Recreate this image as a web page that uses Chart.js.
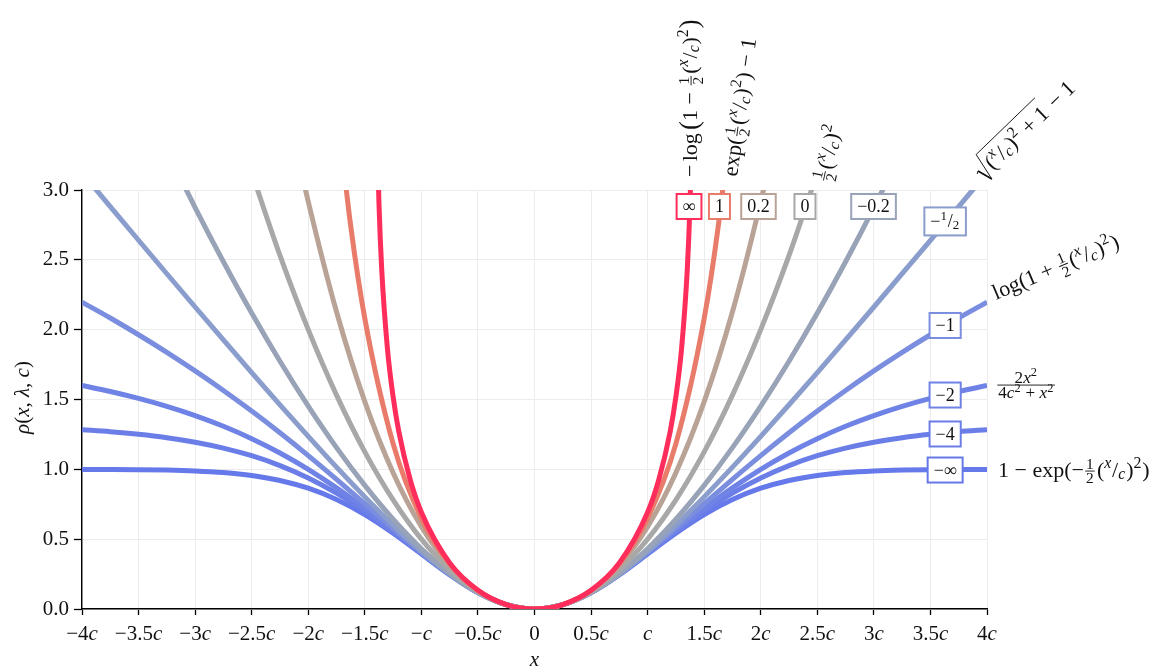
<!DOCTYPE html>
<html><head><meta charset="utf-8">
<script src="https://cdn.jsdelivr.net/npm/chart.js@4.4.1/dist/chart.umd.min.js"></script>
<style>html,body{margin:0;padding:0;background:#fff;}canvas{display:block;}</style>
</head><body>
<div style="width:1176px;height:669px;position:relative;"><canvas id="c" width="1176" height="669"></canvas></div>
<script>
// ---------- data ----------
const lambdaLabels = ['∞','1','0.2','0','−0.2','−1/2','−1','−2','−4','−∞'];
const xTickLabels = ['−4c','−3.5c','−3c','−2.5c','−2c','−1.5c','−c','−0.5c','0','0.5c','c','1.5c','2c','2.5c','3c','3.5c','4c'];
const yTickLabels = ['0.0','0.5','1.0','1.5','2.0','2.5','3.0'];

const xFull = [-4,-3.75,-3.5,-3.25,-3,-2.75,-2.5,-2.25,-2,-1.75,-1.5,-1.25,-1,-0.75,-0.5,-0.25,0,0.25,0.5,0.75,1,1.25,1.5,1.75,2,2.25,2.5,2.75,3,3.25,3.5,3.75,4];
const yNegInf = [0.9997,0.9991,0.9978,0.9949,0.9889,0.9772,0.9561,0.9204,0.8647,0.7837,0.6753,0.5422,0.3935,0.2452,0.1175,0.0308,0,0.0308,0.1175,0.2452,0.3935,0.5422,0.6753,0.7837,0.8647,0.9204,0.9561,0.9772,0.9889,0.9949,0.9978,0.9991,0.9997];
const yNeg4 = [1.2840,1.2698,1.2511,1.2266,1.1944,1.1522,1.0974,1.0270,0.9383,0.8291,0.6994,0.5526,0.3969,0.2459,0.1176,0.0308,0,0.0308,0.1176,0.2459,0.3969,0.5526,0.6994,0.8291,0.9383,1.0270,1.0974,1.1522,1.1944,1.2266,1.2511,1.2698,1.2840];
const yNeg2 = [1.6,1.5571,1.5077,1.4506,1.3846,1.3081,1.2195,1.1172,1.0,0.8673,0.72,0.5618,0.4,0.2466,0.1176,0.0308,0,0.0308,0.1176,0.2466,0.4,0.5618,0.72,0.8673,1.0,1.1172,1.2195,1.3081,1.3846,1.4506,1.5077,1.5571,1.6];
const yNeg1 = [2.1972,2.0834,1.9636,1.8376,1.7047,1.5647,1.4171,1.2617,1.0986,0.9287,0.7538,0.5773,0.4055,0.2478,0.1178,0.0308,0,0.0308,0.1178,0.2478,0.4055,0.5773,0.7538,0.9287,1.0986,1.2617,1.4171,1.5647,1.7047,1.8376,1.9636,2.0834,2.1972];
const yNegHalf = [3.1231,2.8810,2.6401,2.4004,2.1623,1.9262,1.6926,1.4622,1.2361,1.0156,0.8028,0.6008,0.4142,0.25,0.1180,0.0308,0,0.0308,0.1180,0.25,0.4142,0.6008,0.8028,1.0156,1.2361,1.4622,1.6926,1.9262,2.1623,2.4004,2.6401,2.8810,3.1231];
const xNeg02 = [-3.25,-3,-2.75,-2.5,-2.25,-2,-1.75,-1.5,-1.25,-1,-0.75,-0.5,-0.25,0,0.25,0.5,0.75,1,1.25,1.5,1.75,2,2.25,2.5,2.75,3,3.25];
const yNeg02 = [3.2838,2.8746,2.4864,2.1189,1.7741,1.4526,1.1553,0.8848,0.6424,0.4311,0.2547,0.1187,0.0308,0,0.0308,0.1187,0.2547,0.4311,0.6424,0.8848,1.1553,1.4526,1.7741,2.1189,2.4864,2.8746,3.2838];
const xZero = [-2.5,-2.25,-2,-1.75,-1.5,-1.25,-1,-0.75,-0.5,-0.25,0,0.25,0.5,0.75,1,1.25,1.5,1.75,2,2.25,2.5];
const yZero = [3.125,2.5313,2.0,1.5313,1.125,0.7813,0.5,0.2813,0.125,0.0313,0,0.0313,0.125,0.2813,0.5,0.7813,1.125,1.5313,2.0,2.5313,3.125];
const xPos02 = [-2.25,-2.125,-2,-1.75,-1.5,-1.25,-1,-0.75,-0.5,-0.25,0,0.25,0.5,0.75,1,1.25,1.5,1.75,2,2.125,2.25];
const yPos02 = [3.8633,3.3706,2.9177,2.1281,1.4846,0.9758,0.5896,0.3131,0.1320,0.0317,0,0.0317,0.1320,0.3131,0.5896,0.9758,1.4846,2.1281,2.9177,3.3706,3.8633];
const xOne = [-1.75,-1.625,-1.5,-1.25,-1,-0.75,-0.5,-0.25,0,0.25,0.5,0.75,1,1.25,1.5,1.625,1.75];
const yOne = [3.6240,2.7446,2.0802,1.1842,0.6487,0.3248,0.1331,0.0317,0,0.0317,0.1331,0.3248,0.6487,1.1842,2.0802,2.7446,3.6240];
const xInf = [-1.39,-1.375,-1.35,-1.3,-1.25,-1.2,-1.1,-1,-0.75,-0.5,-0.25,0,0.25,0.5,0.75,1,1.1,1.2,1.25,1.3,1.35,1.375,1.39];
const yInf = [3.383,2.906,2.422,1.864,1.520,1.273,0.929,0.6931,0.3302,0.1335,0.0318,0,0.0318,0.1335,0.3302,0.6931,0.929,1.273,1.520,1.864,2.422,2.906,3.383];

// label-box anchor positions (data coordinates)
const boxX = [1.366,1.635,1.98,2.391,2.997,3.63,3.63,3.63,3.63,3.63];
const boxY = [2.882,2.882,2.882,2.882,2.882,2.775,2.03,1.532,1.253,0.995];

// ---------- styles ----------
const curveColors = ['#ff2d5b','#e97b6a','#b9a296','#a8a8a8','#98a3b7','#8a9dcc','#7a8ddf','#6f82e6','#6b7ee8','#6679ea'];
const SERIF = '"Liberation Serif","DejaVu Serif",serif';
const INK = '#111';

const seriesX = [xInf,xOne,xPos02,xZero,xNeg02,xFull,xFull,xFull,xFull,xFull];
const seriesY = [yInf,yOne,yPos02,yZero,yNeg02,yNegHalf,yNeg1,yNeg2,yNeg4,yNegInf];

const datasets = lambdaLabels.map((lab,i)=>({
  label: lab,
  data: seriesX[i].map((x,j)=>({x:x, y:seriesY[i][j]})),
  borderColor: curveColors[i],
  borderWidth: 5,
  pointRadius: 0,
  fill: false,
  cubicInterpolationMode: 'monotone',
  borderCapStyle: 'butt'
}));

// ---------- tiny math-text renderer ----------
function fnt(size, it){ return (it?'italic ':'') + size.toFixed(2) + 'px ' + SERIF; }
function layoutMath(ctx, items, S, draw, x0, y0){
  let x = x0;
  for (const it of items){
    const k = it[0];
    if (k==='r' || k==='i'){
      const sc = it[2]||1;
      ctx.font = fnt(S*sc, k==='i');
      if (draw) ctx.fillText(it[1], x, y0 + (sc>1 ? S*(sc-1)*0.3 : 0));
      x += ctx.measureText(it[1]).width;
    } else if (k==='sup' || k==='sub'){
      const s = S*0.72;
      ctx.font = fnt(s, !!it[2]);
      const dy = k==='sup' ? -S*0.40 : S*0.10;
      if (draw) ctx.fillText(it[1], x, y0+dy);
      x += ctx.measureText(it[1]).width + S*0.04;
    } else if (k==='frac'){
      const s = S*(it[3]||0.7);
      const wn = layoutMath(ctx, it[1], s, false, 0, 0);
      const wd = layoutMath(ctx, it[2], s, false, 0, 0);
      const w = Math.max(wn, wd) + S*0.2;
      const bar = y0 - S*0.27;
      if (draw){
        layoutMath(ctx, it[1], s, true, x + (w-wn)/2, bar - S*0.1);
        layoutMath(ctx, it[2], s, true, x + (w-wd)/2, bar + S*0.08 + s*0.68);
        ctx.fillRect(x + S*0.06, bar - 0.45, w - S*0.12, 0.9);
      }
      x += w + S*0.04;
    } else if (k==='sp'){
      x += it[1]*S;
    } else if (k==='sqrt'){
      const inner0 = x + S*0.62;
      const end = layoutMath(ctx, it[1], S, false, inner0, y0);
      if (draw){
        const sv = ctx.strokeStyle, lw = ctx.lineWidth;
        ctx.strokeStyle = ctx.fillStyle; ctx.lineWidth = 0.9;
        ctx.beginPath();
        ctx.moveTo(x, y0 - S*0.38);
        ctx.lineTo(x + S*0.12, y0 - S*0.45);
        ctx.lineTo(x + S*0.32, y0 + S*0.25);
        ctx.lineTo(x + S*0.58, y0 - S*1.05);
        ctx.lineTo(end + S*0.05, y0 - S*1.05);
        ctx.stroke();
        ctx.beginPath(); ctx.lineWidth = 1.6;
        ctx.moveTo(x + S*0.12, y0 - S*0.45);
        ctx.lineTo(x + S*0.32, y0 + S*0.25);
        ctx.stroke();
        ctx.strokeStyle = sv; ctx.lineWidth = lw;
        layoutMath(ctx, it[1], S, true, inner0, y0);
      }
      x = end + S*0.1;
    }
  }
  return x;
}
function drawMath(ctx, items, S, x, y, angleDeg){
  ctx.save();
  ctx.translate(x, y);
  ctx.rotate(angleDeg*Math.PI/180);
  ctx.fillStyle = INK;
  ctx.textBaseline = 'alphabetic';
  layoutMath(ctx, items, S, true, 0, 0);
  ctx.restore();
}
const HALF = ['frac', [['r','1']], [['r','2']], 0.7];
const XC = [['r','('],['sup','x',true],['r','/'],['sub','c',true],['r',')'],['sup','2']];

const formulaLabels = [
  {items: [['r','−'],['sp',0.15],['r','log'],['sp',0.15],['r','(',1.2],['r','1 − '],HALF, ...XC, ['r',')',1.2]], x:697, y:177, a:-90},
  {items: [['r','exp('],HALF, ...XC, ['r',') − 1']], x:737, y:177, a:-82},
  {items: [HALF, ...XC], x:829, y:183, a:-78},
  {items: [['sqrt', [...XC, ['r',' + 1']]], ['r',' − 1']], x:983, y:180, a:-44},
  {items: [['r','log(1 + '],HALF, ...XC, ['r',')']], x:996, y:300, a:-23},
  {items: [['frac', [['r','2'],['i','x'],['sup','2']], [['r','4'],['i','c'],['sup','2'],['r',' + '],['i','x'],['sup','2']], 0.78]], x:996, y:391, a:0},
  {items: [['r','1 − exp(−'],HALF, ...XC, ['r',')']], x:998, y:477, a:0}
];

function boxItems(lab){
  if (lab==='−1/2') return [['r','−'],['sup','1'],['r','/'],['sub','2']];
  return [['r',lab]];
}

const overlay = {
  id:'overlay',
  afterDatasetsDraw(chart){
    const ctx = chart.ctx, xs = chart.scales.x, ys = chart.scales.y;
    ctx.save();
    ctx.textBaseline = 'alphabetic';
    const S = 18;
    lambdaLabels.forEach((lab,i)=>{
      const cx = xs.getPixelForValue(boxX[i]), cy = ys.getPixelForValue(boxY[i]);
      const items = boxItems(lab);
      const w = layoutMath(ctx, items, S, false, 0, 0);
      const h = lab==='−1/2' ? 28 : 25;
      const pad = 6;
      ctx.fillStyle = '#fff';
      ctx.fillRect(cx - w/2 - pad, cy - h/2, w + 2*pad, h);
      ctx.strokeStyle = curveColors[i]; ctx.lineWidth = 2;
      ctx.strokeRect(cx - w/2 - pad, cy - h/2, w + 2*pad, h);
      ctx.fillStyle = INK;
      layoutMath(ctx, items, S, true, cx - w/2, cy + S*0.32);
    });
    ctx.restore();
  },
  afterDraw(chart){
    const ctx = chart.ctx, xs = chart.scales.x;
    ctx.save();
    ctx.fillStyle = INK;
    const S = 21;
    // x tick labels
    xs.ticks.forEach((t,i)=>{
      const lab = xTickLabels[i];
      const items = lab.endsWith('c') ? (lab.length>1 ? [['r',lab.slice(0,-1)],['i','c']] : [['i','c']]) : [['r',lab]];
      const w = layoutMath(ctx, items, S, false, 0, 0);
      const px = xs.getPixelForValue(t.value);
      layoutMath(ctx, items, S, true, px - w/2, 640);
    });
    // axis titles
    const xt = [['i','x']];
    const wx = layoutMath(ctx, xt, S, false, 0, 0);
    layoutMath(ctx, xt, S, true, (chart.chartArea.left+chart.chartArea.right)/2 - wx/2, 666);
    const yt = [['i','ρ'],['r','('],['i','x'],['r',', '],['i','λ'],['r',', '],['i','c'],['r',')']];
    const wy = layoutMath(ctx, yt, S, false, 0, 0);
    drawMath(ctx, yt, S, 29, (chart.chartArea.top+chart.chartArea.bottom)/2 + wy/2 - 2, -90);
    // formula labels
    formulaLabels.forEach(f=>drawMath(ctx, f.items, 22, f.x, f.y, f.a));
    ctx.restore();
  }
};

new Chart(document.getElementById('c'), {
  type: 'line',
  data: { datasets },
  options: {
    responsive: false,
    devicePixelRatio: 1,
    animation: false,
    events: [],
    layout: { padding: { top: 190, right: 189, left: 0, bottom: 0 } },
    plugins: { legend: { display: false }, tooltip: { enabled: false } },
    scales: {
      x: {
        type: 'linear', min: -4, max: 4,
        ticks: { stepSize: 0.5, callback: () => '', autoSkip: false, maxRotation: 0 },
        grid: { color: '#ececec', lineWidth: 1, tickColor: '#000', tickLength: 6, tickWidth: 1.3 },
        border: { color: '#000', width: 1.4 },
        afterFit: s => { s.height = 60; }
      },
      y: {
        min: 0, max: 3,
        ticks: { stepSize: 0.5, color: INK, padding: 5,
          font: { family: SERIF, size: 21 },
          callback: (v) => { const k = Math.round(v*2); return yTickLabels[k]; } },
        grid: { color: '#ececec', lineWidth: 1, tickColor: '#000', tickLength: 8, tickWidth: 1.3 },
        border: { color: '#000', width: 1.4 },
        afterFit: s => { s.width = 82; }
      }
    }
  },
  plugins: [overlay]
});
</script>
</body></html>
